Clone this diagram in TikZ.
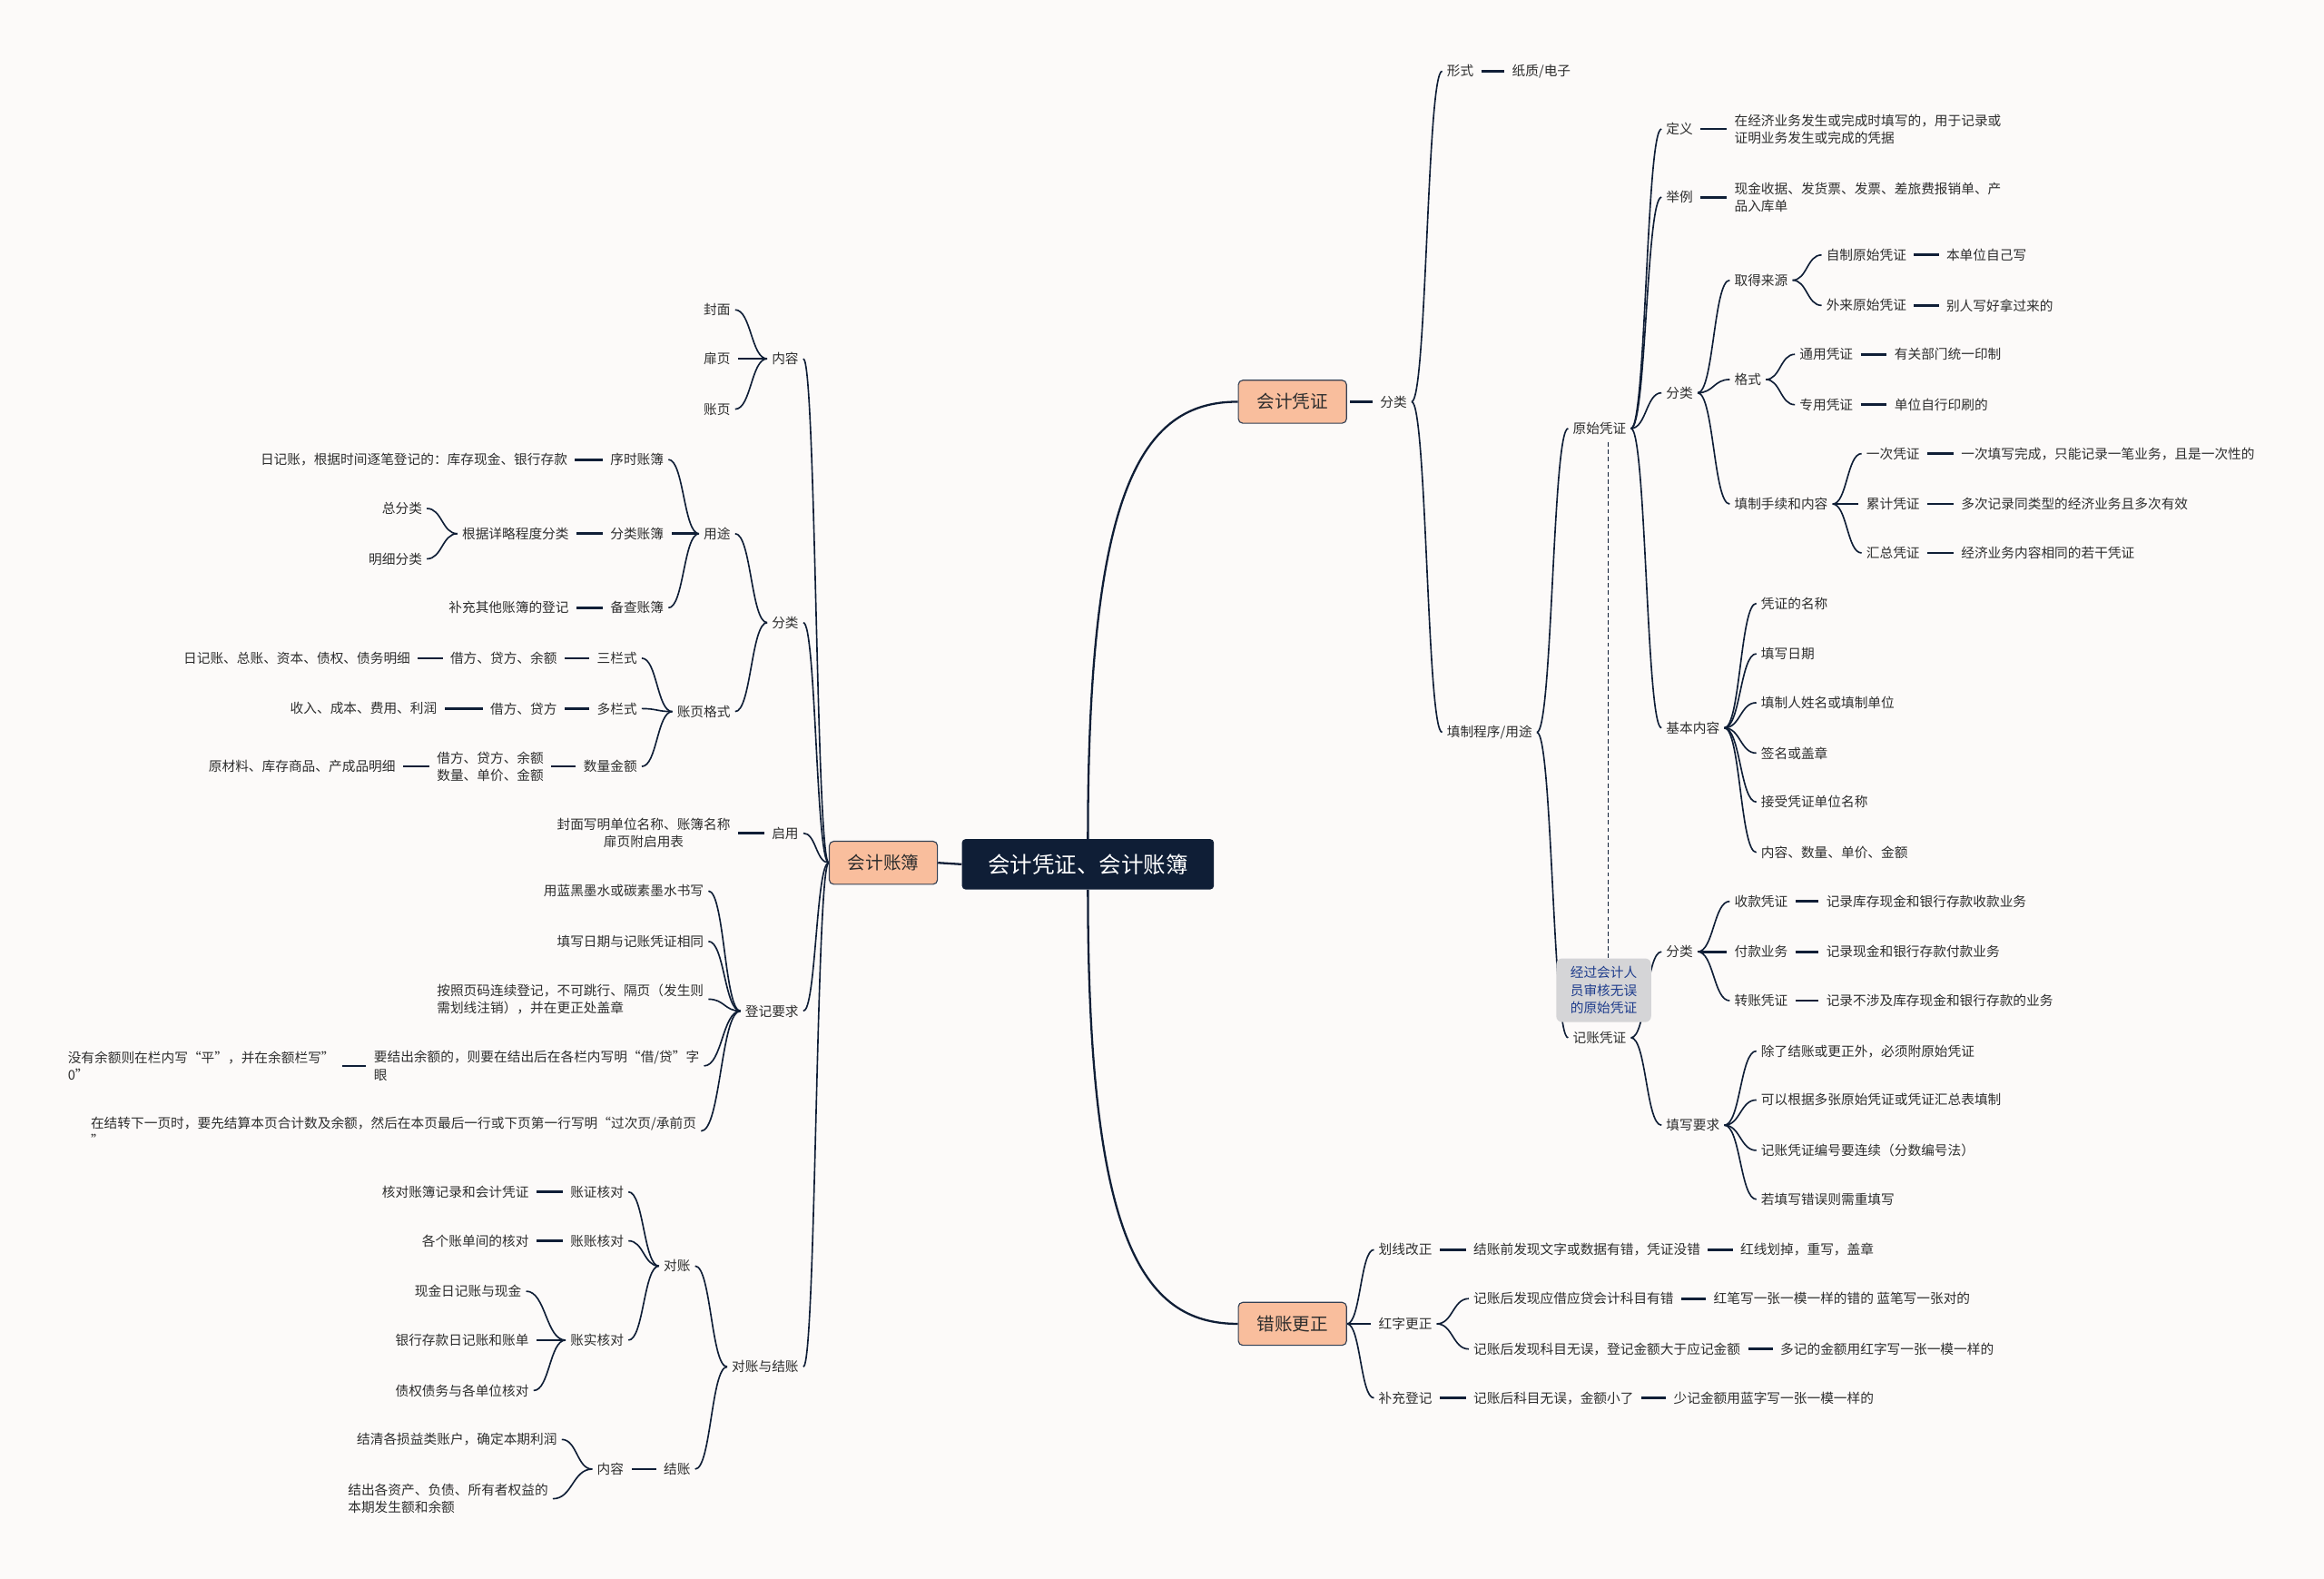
\documentclass[tikz,border=0pt]{standalone}
\usepackage{fontspec}
\setmainfont{Noto Sans CJK SC}
\usetikzlibrary{calc, backgrounds}
\definecolor{Navy}    {HTML}{0F1E36}
\definecolor{Peach}   {HTML}{F9BE9D}
\definecolor{Paper}   {HTML}{FCFAF9}
\definecolor{NoteGrey}{HTML}{D5D5D7}
\definecolor{NoteBlue}{HTML}{1E3C8C}
\definecolor{Ink}     {HTML}{2E2E2E}

\begin{document}
\begin{tikzpicture}[x=1pt, y=-1pt,
  every node/.style={font=\fontsize{9}{11.8}\selectfont, text=Ink,
                     inner xsep=3pt, inner ysep=1pt},
  rnode/.style={anchor=west, align=left},
  lnode/.style={anchor=east, align=left},
  root/.style={fill=Navy, text=white, rounded corners=2.5pt, inner sep=0pt,
               minimum width=170pt, minimum height=34pt,
               font=\fontsize{15}{18}\selectfont},
  topic/.style={fill=Peach, draw=Navy!85, line width=0.7pt, rounded corners=3pt,
                inner sep=0pt, minimum width=73pt, minimum height=29pt,
                font=\fontsize{12}{14}\selectfont},
  note/.style={fill=NoteGrey, rounded corners=4pt, text=NoteBlue, align=center,
               inner sep=0pt, minimum width=64pt, minimum height=43pt},
  trunk/.style={draw=Navy, line width=1.4pt},
  bar/.style={draw=Navy, line width=1.7pt, shorten <=2pt, shorten >=2pt},
  link/.style={draw=Navy, line width=1pt,
    to path={.. controls ($(\tikztostart)!0.5!(\tikztotarget|-\tikztostart)$)
             and ($(\tikztotarget)!0.5!(\tikztostart|-\tikztotarget)$) .. (\tikztotarget)}}
  ]
  \useasboundingbox (0,0) rectangle (1568,1065);

  % Centre and main topics
  \node[root]  (root)    at (734,583) {会计凭证、会计账簿};
  \node[topic] (voucher) at (872,271) {会计凭证};
  \node[topic] (fix)     at (872,893) {错账更正};
  \node[topic] (ledger)  at (596,582) {会计账簿};

  % Right: 会计凭证
  \node[rnode] (vcls)  at (928,271)  {分类};
  \node[rnode] (form)  at (973,48)   {形式};
  \node[rnode] (paper) at (1017,48)  {纸质/电子};
  \node[rnode] (proc)  at (973,494)  {填制程序/用途};
  \node[rnode] (orig)  at (1058,289) {原始凭证};
  \node[rnode] (odef)  at (1121,87)  {定义};
  \node[rnode] (odefT) at (1167,87)  {在经济业务发生或完成时填写的，用于记录或\\证明业务发生或完成的凭据};
  \node[rnode] (oex)   at (1121,133) {举例};
  \node[rnode] (oexT)  at (1167,133) {现金收据、发货票、发票、差旅费报销单、产\\品入库单};
  \node[rnode] (ocls)  at (1121,265) {分类};
  \node[rnode] (osrc)  at (1167,189) {取得来源};
  \node[rnode] (self)  at (1229,172) {自制原始凭证};
  \node[rnode] (selfT) at (1310,172) {本单位自己写};
  \node[rnode] (ext)   at (1229,206) {外来原始凭证};
  \node[rnode] (extT)  at (1310,206) {别人写好拿过来的};
  \node[rnode] (ofmt)  at (1167,256) {格式};
  \node[rnode] (gen)   at (1211,239) {通用凭证};
  \node[rnode] (genT)  at (1275,239) {有关部门统一印制};
  \node[rnode] (spec)  at (1211,273) {专用凭证};
  \node[rnode] (specT) at (1275,273) {单位自行印刷的};
  \node[rnode] (ofill) at (1167,340) {填制手续和内容};
  \node[rnode] (once)  at (1256,306) {一次凭证};
  \node[rnode] (onceT) at (1320,306) {一次填写完成，只能记录一笔业务，且是一次性的};
  \node[rnode] (cum)   at (1256,340) {累计凭证};
  \node[rnode] (cumT)  at (1320,340) {多次记录同类型的经济业务且多次有效};
  \node[rnode] (sum)   at (1256,373) {汇总凭证};
  \node[rnode] (sumT)  at (1320,373) {经济业务内容相同的若干凭证};
  \node[rnode] (obase) at (1121,491) {基本内容};
  \node[rnode] (b1)    at (1185,407) {凭证的名称};
  \node[rnode] (b2)    at (1185,441) {填写日期};
  \node[rnode] (b3)    at (1185,474) {填制人姓名或填制单位};
  \node[rnode] (b4)    at (1185,508) {签名或盖章};
  \node[rnode] (b5)    at (1185,541) {接受凭证单位名称};
  \node[rnode] (b6)    at (1185,575) {内容、数量、单价、金额};
  \node[note]  (note)  at (1082,668) {经过会计人\\员审核无误\\的原始凭证};
  \node[rnode] (book)  at (1058,700) {记账凭证};
  \node[rnode] (bcls)  at (1121,642) {分类};
  \node[rnode] (rec)   at (1167,608) {收款凭证};
  \node[rnode] (recT)  at (1229,608) {记录库存现金和银行存款收款业务};
  \node[rnode] (pay)   at (1167,642) {付款业务};
  \node[rnode] (payT)  at (1229,642) {记录现金和银行存款付款业务};
  \node[rnode] (trf)   at (1167,675) {转账凭证};
  \node[rnode] (trfT)  at (1229,675) {记录不涉及库存现金和银行存款的业务};
  \node[rnode] (breq)  at (1121,759) {填写要求};
  \node[rnode] (q1)    at (1185,709) {除了结账或更正外，必须附原始凭证};
  \node[rnode] (q2)    at (1185,742) {可以根据多张原始凭证或凭证汇总表填制};
  \node[rnode] (q3)    at (1185,776) {记账凭证编号要连续（分数编号法）};
  \node[rnode] (q4)    at (1185,809) {若填写错误则需重填写};

  % Right: 错账更正
  \node[rnode] (line)  at (927,843)  {划线改正};
  \node[rnode] (lineA) at (991,843)  {结账前发现文字或数据有错，凭证没错};
  \node[rnode] (lineB) at (1171,843) {红线划掉，重写，盖章};
  \node[rnode] (red)   at (927,893)  {红字更正};
  \node[rnode] (redA1) at (991,876)  {记账后发现应借应贷会计科目有错};
  \node[rnode] (redB1) at (1153,876) {红笔写一张一模一样的错的 蓝笔写一张对的};
  \node[rnode] (redA2) at (991,910)  {记账后发现科目无误，登记金额大于应记金额};
  \node[rnode] (redB2) at (1198,910) {多记的金额用红字写一张一模一样的};
  \node[rnode] (supp)  at (927,943)  {补充登记};
  \node[rnode] (suppA) at (991,943)  {记账后科目无误，金额小了};
  \node[rnode] (suppB) at (1126,943) {少记金额用蓝字写一张一模一样的};

  % Left: 会计账簿
  \node[lnode] (lcont)  at (542,242) {内容};
  \node[lnode] (cover)  at (496,209) {封面};
  \node[lnode] (fly)    at (496,242) {扉页};
  \node[lnode] (page)   at (496,276) {账页};
  \node[lnode] (lcls)   at (542,420) {分类};
  \node[lnode] (use)    at (496,360) {用途};
  \node[lnode] (seq)    at (451,310) {序时账簿};
  \node[lnode] (seqT)   at (386,310) {日记账，根据时间逐笔登记的：库存现金、银行存款};
  \node[lnode] (cat)    at (451,360) {分类账簿};
  \node[lnode] (catT)   at (387,360) {根据详略程度分类};
  \node[lnode] (gcat)   at (288,343) {总分类};
  \node[lnode] (dcat)   at (288,377) {明细分类};
  \node[lnode] (memo)   at (451,410) {备查账簿};
  \node[lnode] (memoT)  at (387,410) {补充其他账簿的登记};
  \node[lnode] (fmt)    at (496,480) {账页格式};
  \node[lnode] (three)  at (433,444) {三栏式};
  \node[lnode] (threeA) at (379,444) {借方、贷方、余额};
  \node[lnode] (threeB) at (280,444) {日记账、总账、资本、债权、债务明细};
  \node[lnode] (multi)  at (433,478) {多栏式};
  \node[lnode] (multiA) at (379,478) {借方、贷方};
  \node[lnode] (multiB) at (298,478) {收入、成本、费用、利润};
  \node[lnode] (qty)    at (433,517) {数量金额};
  \node[lnode] (qtyA)   at (370,517) {借方、贷方、余额\\数量、单价、金额};
  \node[lnode] (qtyB)   at (270,517) {原材料、库存商品、产成品明细};
  \node[lnode] (start)  at (542,562) {启用};
  \node[lnode, align=center] (startT) at (496,562) {封面写明单位名称、账簿名称\\扉页附启用表};
  \node[lnode] (reg)    at (542,682) {登记要求};
  \node[lnode] (r1)     at (478,601) {用蓝黑墨水或碳素墨水书写};
  \node[lnode] (r2)     at (478,635) {填写日期与记账凭证相同};
  \node[lnode] (r3)     at (478,674) {按照页码连续登记，不可跳行、隔页（发生则\\需划线注销），并在更正处盖章};
  \node[lnode] (r4)     at (475,719) {要结出余额的，则要在结出后在各栏内写明“借/贷”字\\眼};
  \node[lnode] (r4a)    at (229,719) {没有余额则在栏内写“平”，并在余额栏写”\\0”};
  \node[lnode] (r5)     at (473,763) {在结转下一页时，要先结算本页合计数及余额，然后在本页最后一行或下页第一行写明“过次页/承前页\\”};
  \node[lnode] (chk)    at (542,922) {对账与结账};
  \node[lnode] (recon)  at (469,854) {对账};
  \node[lnode] (vc)     at (424,804) {账证核对};
  \node[lnode] (vcT)    at (360,804) {核对账簿记录和会计凭证};
  \node[lnode] (aa)     at (424,837) {账账核对};
  \node[lnode] (aaT)    at (360,837) {各个账单间的核对};
  \node[lnode] (ar)     at (424,904) {账实核对};
  \node[lnode] (ar1)    at (355,871) {现金日记账与现金};
  \node[lnode] (ar2)    at (360,904) {银行存款日记账和账单};
  \node[lnode] (ar3)    at (360,938) {债权债务与各单位核对};
  \node[lnode] (close)  at (469,991) {结账};
  \node[lnode] (cont2)  at (424,991) {内容};
  \node[lnode] (cl1)    at (379,971) {结清各损益类账户，确定本期利润};
  \node[lnode] (cl2)    at (373,1011) {结出各资产、负债、所有者权益的\\本期发生额和余额};

  \begin{scope}[on background layer]
    \fill[Paper] (0,0) rectangle (1568,1065);
    % trunk
    \draw[trunk] (root.north) .. controls (734,330) and (770,271) .. (voucher.west);
    \draw[trunk] (root.south) .. controls (734,835) and (770,893) .. (fix.west);
    \draw[trunk] (ledger.east) -- (root.west);
    % 会计凭证
    \draw[bar] (voucher.east) -- (vcls.west);
    \draw[link] (vcls.east) to (form.west);
    \draw[link] (vcls.east) to (proc.west);
    \draw[bar] (form.east) -- (paper.west);
    \draw[link] (proc.east) to (orig.west);
    \draw[link] (proc.east) to (book.west);
    \foreach \c in {odef, oex, ocls, obase}
      \draw[link] (orig.east) to (\c.west);
    \draw[bar] (odef.east) -- (odefT.west);
    \draw[bar] (oex.east) -- (oexT.west);
    \foreach \c in {osrc, ofmt, ofill}
      \draw[link] (ocls.east) to (\c.west);
    \draw[link] (osrc.east) to (self.west);
    \draw[link] (osrc.east) to (ext.west);
    \draw[bar] (self.east) -- (selfT.west);
    \draw[bar] (ext.east) -- (extT.west);
    \draw[link] (ofmt.east) to (gen.west);
    \draw[link] (ofmt.east) to (spec.west);
    \draw[bar] (gen.east) -- (genT.west);
    \draw[bar] (spec.east) -- (specT.west);
    \draw[link] (ofill.east) to (once.west);
    \draw[bar] (ofill.east) -- (cum.west);
    \draw[link] (ofill.east) to (sum.west);
    \draw[bar] (once.east) -- (onceT.west);
    \draw[bar] (cum.east) -- (cumT.west);
    \draw[bar] (sum.east) -- (sumT.west);
    \foreach \c in {b1, b2, b3, b4, b5, b6}
      \draw[link] (obase.east) to (\c.west);
    \draw[Navy, line width=0.8pt, dash pattern=on 3pt off 2pt]
      ($(note.north |- orig.south)+(3,4)$) -- ($(note.north)+(3,0)$);
    \draw[link] (book.east) to (bcls.west);
    \draw[link] (book.east) to (breq.west);
    \draw[link] (bcls.east) to (rec.west);
    \draw[bar] (bcls.east) -- (pay.west);
    \draw[link] (bcls.east) to (trf.west);
    \draw[bar] (rec.east) -- (recT.west);
    \draw[bar] (pay.east) -- (payT.west);
    \draw[bar] (trf.east) -- (trfT.west);
    \foreach \c in {q1, q2, q3, q4}
      \draw[link] (breq.east) to (\c.west);
    % 错账更正
    \draw[link] (fix.east) to (line.west);
    \draw[bar] (fix.east) -- (red.west);
    \draw[link] (fix.east) to (supp.west);
    \draw[bar] (line.east) -- (lineA.west);
    \draw[bar] (lineA.east) -- (lineB.west);
    \draw[link] (red.east) to (redA1.west);
    \draw[link] (red.east) to (redA2.west);
    \draw[bar] (redA1.east) -- (redB1.west);
    \draw[bar] (redA2.east) -- (redB2.west);
    \draw[bar] (supp.east) -- (suppA.west);
    \draw[bar] (suppA.east) -- (suppB.west);
    % 会计账簿
    \foreach \c in {lcont, lcls, start, reg, chk}
      \draw[link] (ledger.west) to (\c.east);
    \draw[link] (lcont.west) to (cover.east);
    \draw[bar] (lcont.west) -- (fly.east);
    \draw[link] (lcont.west) to (page.east);
    \draw[link] (lcls.west) to (use.east);
    \draw[link] (lcls.west) to (fmt.east);
    \draw[link] (use.west) to (seq.east);
    \draw[bar] (use.west) -- (cat.east);
    \draw[link] (use.west) to (memo.east);
    \draw[bar] (seq.west) -- (seqT.east);
    \draw[bar] (cat.west) -- (catT.east);
    \draw[link] (catT.west) to (gcat.east);
    \draw[link] (catT.west) to (dcat.east);
    \draw[bar] (memo.west) -- (memoT.east);
    \foreach \c in {three, multi, qty}
      \draw[link] (fmt.west) to (\c.east);
    \draw[bar] (three.west) -- (threeA.east);
    \draw[bar] (threeA.west) -- (threeB.east);
    \draw[bar] (multi.west) -- (multiA.east);
    \draw[bar] (multiA.west) -- (multiB.east);
    \draw[bar] (qty.west) -- (qtyA.east);
    \draw[bar] (qtyA.west) -- (qtyB.east);
    \draw[bar] (start.west) -- (startT.east);
    \foreach \c in {r1, r2, r3, r4, r5}
      \draw[link] (reg.west) to (\c.east);
    \draw[bar] (r4.west) -- (r4a.east);
    \draw[link] (chk.west) to (recon.east);
    \draw[link] (chk.west) to (close.east);
    \foreach \c in {vc, aa, ar}
      \draw[link] (recon.west) to (\c.east);
    \draw[bar] (vc.west) -- (vcT.east);
    \draw[bar] (aa.west) -- (aaT.east);
    \draw[link] (ar.west) to (ar1.east);
    \draw[bar] (ar.west) -- (ar2.east);
    \draw[link] (ar.west) to (ar3.east);
    \draw[bar] (close.west) -- (cont2.east);
    \draw[link] (cont2.west) to (cl1.east);
    \draw[link] (cont2.west) to (cl2.east);
  \end{scope}
\end{tikzpicture}
\end{document}
